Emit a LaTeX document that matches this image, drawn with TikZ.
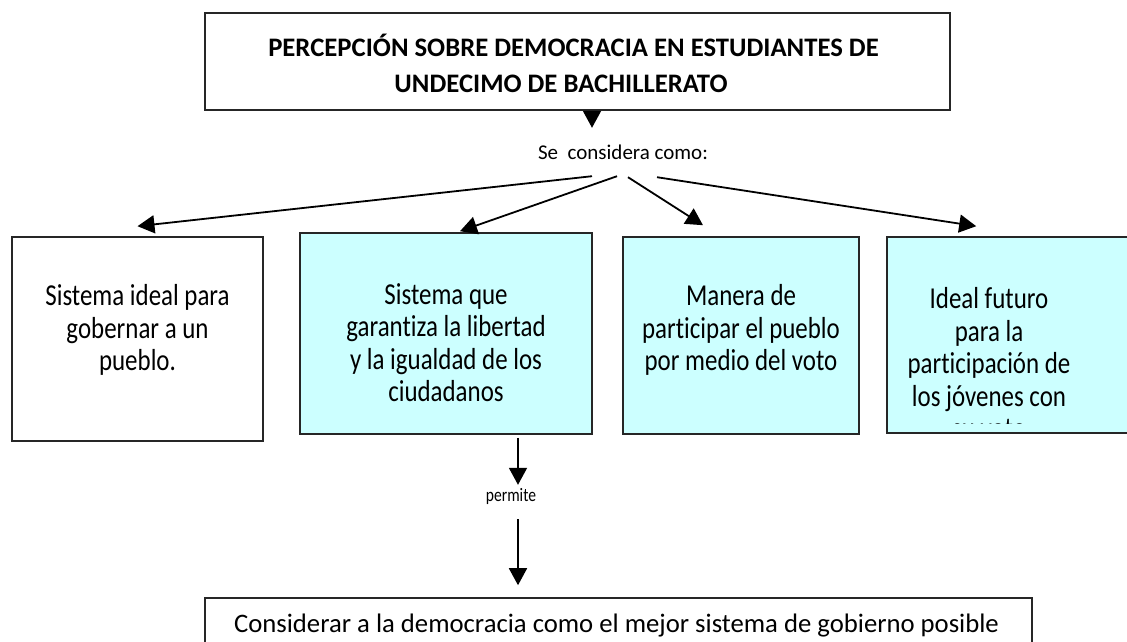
\documentclass[tikz,border=0pt]{standalone}
\usepackage{fontspec}
\setmainfont{Carlito}[Ligatures=NoCommon]
\newfontfamily\cajafont{Carlito}[FakeStretch=0.82, Ligatures=NoCommon]
\usetikzlibrary{arrows.meta}
\definecolor{celeste}{HTML}{CCFFFF}
\begin{document}
\begin{tikzpicture}[x=1pt, y=-1pt, arr/.style={line width=1.8pt, -{Triangle[length=17pt, width=18pt]}}]
  \tikzset{caja/.style={draw=black!85, line width=1.6pt, inner sep=0pt}}
  \tikzset{txt/.style={align=center, font=\cajafont\fontsize{30.4}{32.5}\selectfont}}
  \useasboundingbox (0,0) rectangle (1127,641);
  % title
  \node[caja, minimum width=745pt, minimum height=97pt] (title) at (577.5,61.5) {};
  \node[align=center, font=\fontsize{26.7}{36}\selectfont\bfseries] (ttl) at (573.5,63)
    {PERCEPCIÓN SOBRE DEMOCRACIA EN ESTUDIANTES DE\\UNDECIMO DE BACHILLERATO\kern25pt};
  \node[anchor=base, font=\fontsize{21}{24}\selectfont, inner xsep=0pt, inner ysep=16pt,
    text height=15pt, text depth=4pt] (se) at (623,159) {Se\ \ considera como:};
  % boxes
  \node[caja, minimum width=251pt, minimum height=204pt] (b1) at (137.5,339) {};
  \node[caja, fill=celeste, minimum width=292pt, minimum height=201pt] (b2) at (446,333.5) {};
  \node[caja, fill=celeste, minimum width=236pt, minimum height=197pt] (b3) at (741,335.5) {};
  \node[caja, fill=celeste, minimum width=248pt, minimum height=196pt] (b4) at (1011,335) {};
  \node[txt] (t1) at (137.5,330) {Sistema ideal para\\gobernar a un\\pueblo.};
  \node[txt] (t2) at (446,342.5) {Sistema que\\garantiza la libertad\\y la igualdad de los\\ciudadanos};
  \node[txt] (t3) at (741,330) {Manera de\\participar el pueblo\\por medio del voto};
  \begin{scope}
    \clip (887,237) rectangle (1127,423.5);
    \node[txt] (t4) at (989,363.5) {Ideal futuro\\para la\\participación de\\los jóvenes con\\su voto};
  \end{scope}
  \node[anchor=base, font=\cajafont\fontsize{19}{22}\selectfont, inner ysep=5pt,
    text height=11pt, text depth=3pt] (perm) at (511,501) {permite};
  % bottom
  \node[caja, minimum width=827pt, minimum height=72pt] (bot) at (618.5,634) {};
  \node[anchor=base, font=\fontsize{26.7}{30}\selectfont] (tb) at (616.5,632)
    {Considerar a la democracia como el mejor sistema de gobierno posible};
  % arrows
  \draw[arr] ([xshift=14.5pt]title.south) -- ([xshift=-31pt]se.north);
  \draw[arr] ([xshift=-31pt, yshift=3pt]se.south) -- ([yshift=10pt]b1.north);
  \draw[arr] ([xshift=-6pt, yshift=3pt]se.south) -- ([xshift=14pt, yshift=1pt]b2.north);
  \draw[arr] ([xshift=5pt, yshift=2pt]se.south) -- ([xshift=-38pt, yshift=11pt]b3.north);
  \draw[arr] ([xshift=34pt, yshift=2pt]se.south) -- ([xshift=90pt, yshift=10pt]b4.north west);
  \draw[arr] ([xshift=72pt, yshift=-3pt]b2.south) -- ([xshift=7pt]perm.north);
  \draw[arr] ([xshift=7pt, yshift=-10pt]perm.south) -- ([xshift=-100.5pt, yshift=12pt]bot.north);
\end{tikzpicture}
\end{document}
